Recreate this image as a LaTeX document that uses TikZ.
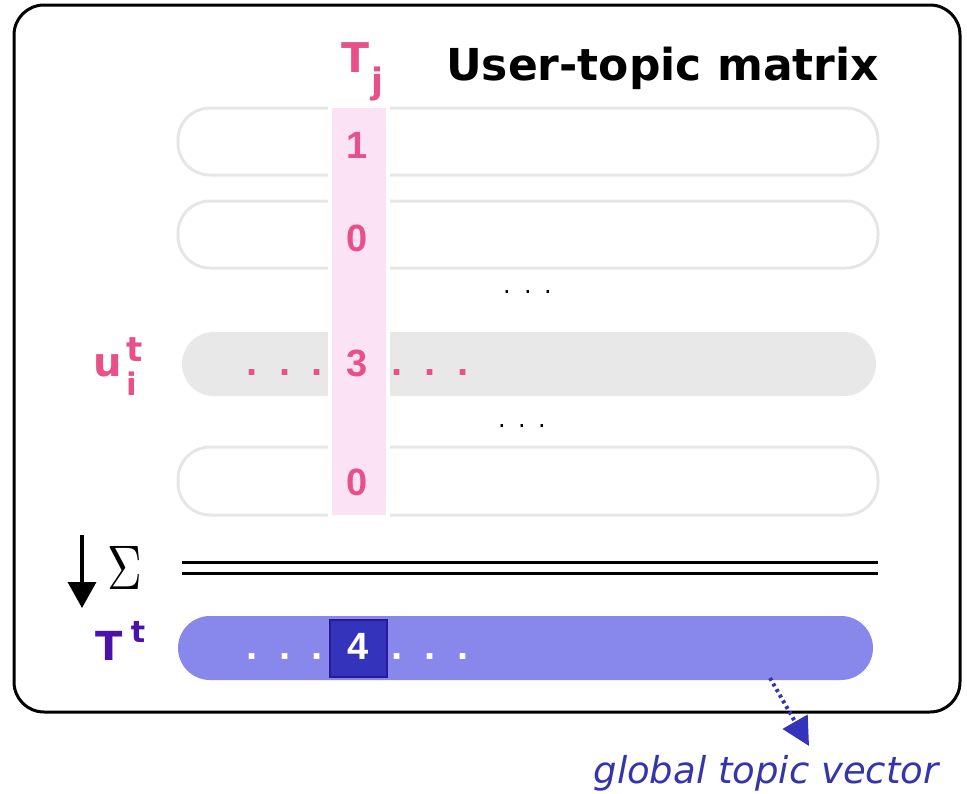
\documentclass[tikz,border=0pt]{standalone}
\usepackage{fontspec}
\usepackage{graphicx}
\setmainfont{Liberation Sans}
\newfontfamily\dejab{DejaVu Sans}
\usetikzlibrary{arrows.meta}
\definecolor{pinkt}{HTML}{E8508A}
\definecolor{pinkcol}{HTML}{FBE2F4}
\definecolor{rowline}{HTML}{E6E6E6}
\definecolor{rowfill}{HTML}{E8E8E8}
\definecolor{barblue}{HTML}{8888EC}
\definecolor{darkblue}{HTML}{3333BB}
\definecolor{boxedge}{HTML}{2A1A99}
\definecolor{purp}{HTML}{4A12A8}
\definecolor{labblue}{HTML}{3535AA}
\tikzset{
  rowbox/.style={draw=rowline, line width=3pt, rounded corners=32pt},
  num/.style={inner sep=0pt, text=pinkt, font=\fontsize{38}{40}\selectfont\bfseries},
  pdot/.style={inner sep=0pt, text=pinkt, font=\fontsize{40}{40}\selectfont\bfseries},
  wdot/.style={inner sep=0pt, text=white, font=\fontsize{40}{40}\selectfont\bfseries},
  bdot/.style={inner sep=0pt, text=black, font=\dejab\fontsize{24}{24}\selectfont},
  lab/.style={inner sep=0pt, font=\dejab\bfseries\fontsize{#1}{#1}\selectfont},
}
\begin{document}
\begin{tikzpicture}[x=1pt,y=-1pt]
\useasboundingbox (0,0) rectangle (967,793);
% outer frame
\draw[line width=3pt, rounded corners=30pt] (14,5) rectangle (960,712);
% rows
\draw[rowbox] (178,108) rectangle (878,175);
\draw[rowbox] (178,201) rectangle (878,268);
\fill[rowfill, rounded corners=32pt] (182,332) rectangle (876,396);
\draw[rowbox] (178,447) rectangle (878,515);
% pink column
\fill[pinkcol, draw=white, line width=4pt] (330,106) rectangle (388,517);
% column numbers
\node[num] (n1) at (357,145) {1};
\node[num] (n2) at (357,238) {0};
\node[num] (n3) at (357,363) {3};
\node[num] (n4) at (357,482) {0};
% pink dots
\foreach \x/\k in {252/a,285/b,317/c,397/d,430/e,463/f}
  \node[pdot] (pd\k) at (\x,373) {.};
% black dots
\foreach \x/\k in {507/a,528/b,548/c}
  \node[bdot] (ba\k) at (\x,292) {.};
\foreach \x/\k in {502/a,522/b,542/c}
  \node[bdot] (bb\k) at (\x,426) {.};
% title
\node[anchor=base west, lab=44] (title) at (446,80) {User-topic matrix};
% T_j
\node[lab=41, text=pinkt] (Tj) at (355,58) {T};
\node[lab=35, text=pinkt] (Tjsub) at (377,84) {j};
% u_i^t
\node[lab=40, text=pinkt] (u) at (108,366) {u};
\node[lab=34, text=pinkt] (usup) at (135,350) {t};
\node[lab=31, text=pinkt] (usub) at (132,384) {i};
% sum lines
\draw[line width=3pt] (182,562) -- (878,562);
\draw[line width=3pt] (182,573) -- (878,573);
\coordinate (aS) at (82,535);
\coordinate (aE) at (82,608);
\draw[line width=3.5pt, -{Triangle[length=26pt,width=28pt]}] (aS) -- (aE);
\node[inner sep=0pt] (sigma) at (125,568) {\scalebox{4.8}[6.3]{$\Sigma$}};
% T^t
\node[lab=40, text=purp] (Tt) at (109,646) {T};
\node[lab=30, text=purp] (Ttsup) at (138,632) {t};
% global bar
\fill[barblue, rounded corners=32pt] (178,616) rectangle (873,680);
\node[draw=boxedge, fill=darkblue, line width=2pt, minimum width=57pt, minimum height=57pt, inner sep=0pt] (box4) at (358,648) {};
\node[inner sep=0pt, text=white, font=\fontsize{38}{40}\selectfont\bfseries] (four) at (358,646) {4};
\foreach \x/\k in {252/a,285/b,317/c,397/d,430/e,463/f}
  \node[wdot] (wd\k) at (\x,657) {.};
% label
\coordinate (gS) at (770,678);
\node[anchor=base, inner sep=0pt, text=labblue, font=\dejab\itshape\fontsize{37}{40}\selectfont] (glab) at (766,783) {global topic vector};
\coordinate (gE) at (809,746);
\draw[darkblue, line width=4pt, dash pattern=on 3pt off 3.5pt, -{Triangle[length=28pt,width=28pt]}] (gS) -- (gE);
\end{tikzpicture}
\end{document}
